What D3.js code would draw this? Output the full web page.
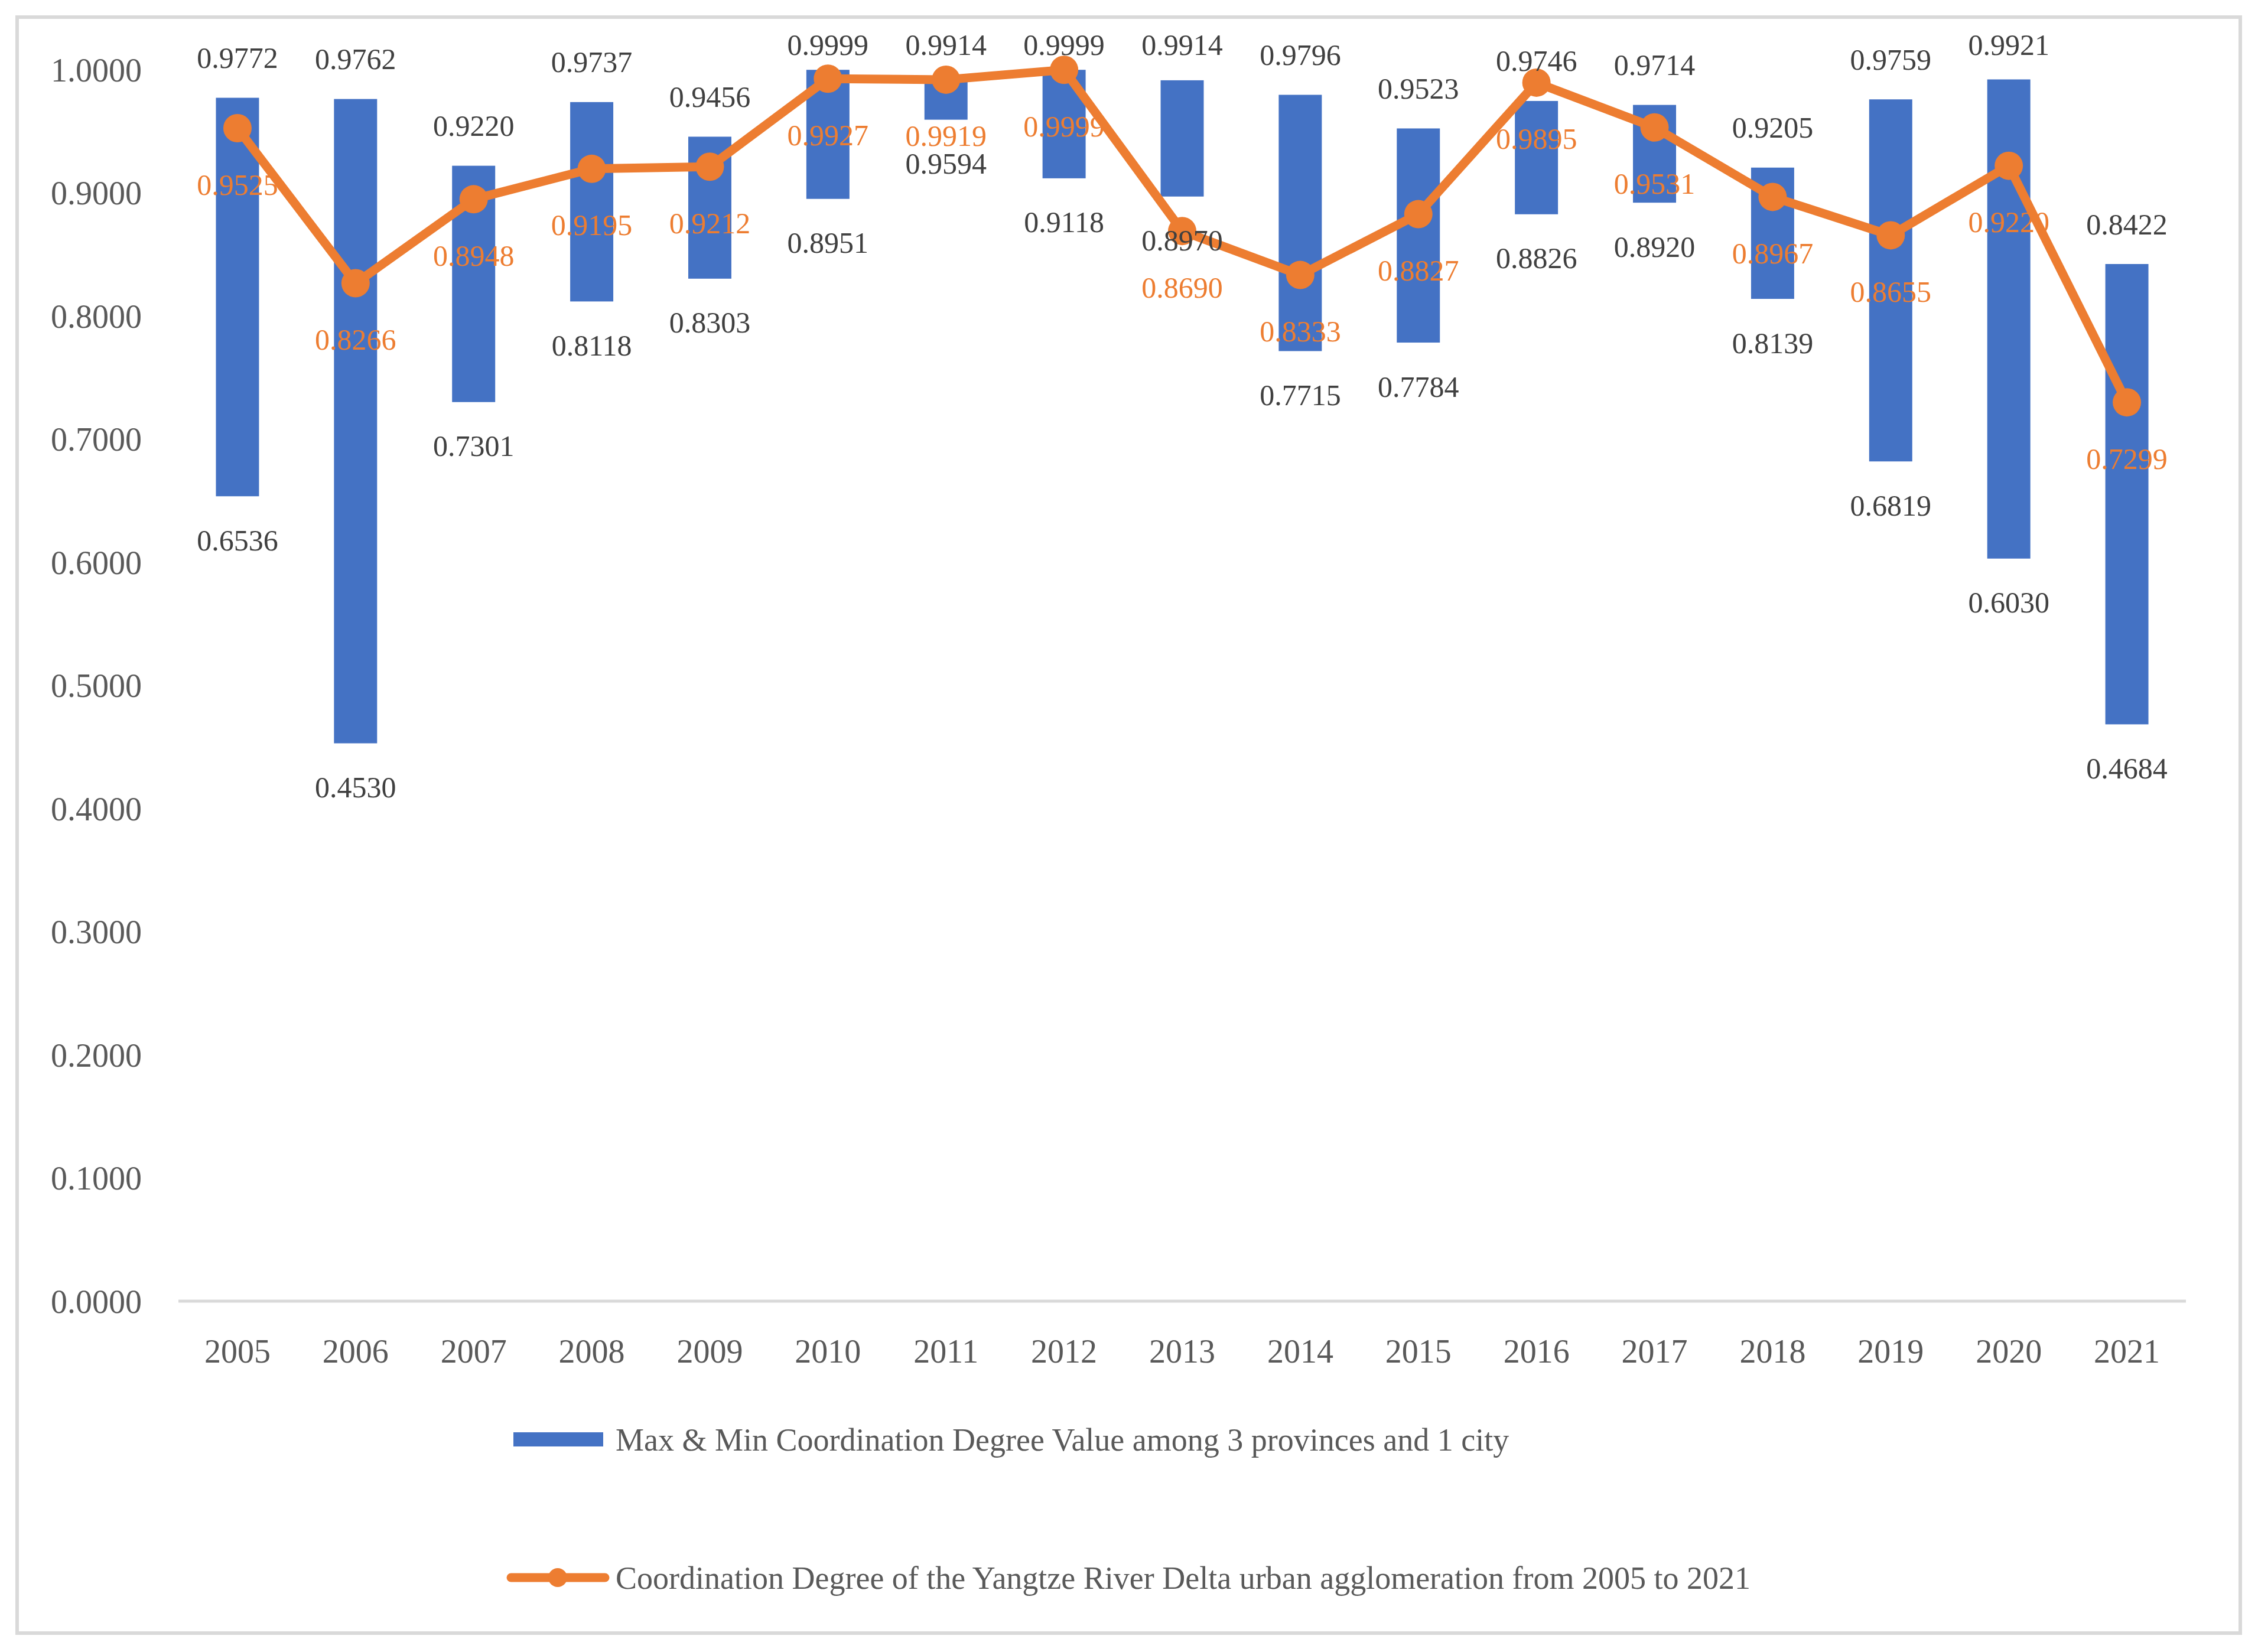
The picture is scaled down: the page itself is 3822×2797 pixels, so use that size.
<!DOCTYPE html>
<html>
<head>
<meta charset="utf-8">
<script src="https://cdn.jsdelivr.net/npm/d3@7"></script>
<style>
  body { margin: 0; background: #fff; }
  text { font-family: "Liberation Serif", "DejaVu Serif", serif; }
</style>
</head>
<body>
<svg id="chart" width="3822" height="2797"></svg>
<script>
// data
const years = ["2005", "2006", "2007", "2008", "2009", "2010", "2011", "2012", "2013",
    "2014", "2015", "2016", "2017", "2018", "2019", "2020", "2021"];
const maxValues = [0.9772, 0.9762, 0.9220, 0.9737, 0.9456, 0.9999, 0.9914, 0.9999, 0.9914,
    0.9796, 0.9523, 0.9746, 0.9714, 0.9205, 0.9759, 0.9921, 0.8422];
const minValues = [0.6536, 0.4530, 0.7301, 0.8118, 0.8303, 0.8951, 0.9594, 0.9118, 0.8970,
    0.7715, 0.7784, 0.8826, 0.8920, 0.8139, 0.6819, 0.6030, 0.4684];
const deltaValues = [0.9525, 0.8266, 0.8948, 0.9195, 0.9212, 0.9927, 0.9919, 0.9999, 0.8690,
    0.8333, 0.8827, 0.9895, 0.9531, 0.8967, 0.8655, 0.9220, 0.7299];
const yTicks = [0, 0.1, 0.2, 0.3, 0.4, 0.5, 0.6, 0.7, 0.8, 0.9, 1.0];
const barLegend = "Max & Min Coordination Degree Value among 3 provinces and 1 city";
const lineLegend = "Coordination Degree of the Yangtze River Delta urban agglomeration from 2005 to 2021";

const blue = "#4472C4", orange = "#ED7D31";

const svg = d3.select("#chart");

// outer frame
svg.append("rect")
    .attr("x", 29).attr("y", 29)
    .attr("width", 3763).attr("height", 2736)
    .attr("fill", "#fff")
    .attr("stroke", "#d9d9d9")
    .attr("stroke-width", 6);

const x = d3.scaleBand()
    .domain(years)
    .range([302, 3700])
    .paddingInner(0.635)
    .paddingOuter(0.3175);

const y = d3.scaleLinear()
    .domain([0, 1])
    .range([2203, 118]);

const cx = d => x(d) + x.bandwidth() / 2;

// y axis labels
svg.append("g")
    .selectAll("text")
    .data(yTicks)
    .join("text")
    .attr("x", 240)
    .attr("y", d => y(d))
    .attr("dy", "0.35em")
    .attr("text-anchor", "end")
    .attr("font-size", 56)
    .attr("fill", "#595959")
    .text(d => d3.format(".4f")(d));

// baseline
svg.append("line")
    .attr("x1", 302).attr("x2", 3700)
    .attr("y1", y(0)).attr("y2", y(0))
    .attr("stroke", "#d9d9d9")
    .attr("stroke-width", 5);

// x labels
svg.append("g")
    .selectAll("text")
    .data(years)
    .join("text")
    .attr("x", d => cx(d))
    .attr("y", 2287)
    .attr("dy", "0.35em")
    .attr("text-anchor", "middle")
    .attr("font-size", 56)
    .attr("fill", "#595959")
    .text(d => d);

// floating bars max-min
svg.append("g")
    .selectAll("rect")
    .data(years)
    .join("rect")
    .attr("x", d => x(d))
    .attr("width", x.bandwidth())
    .attr("y", (d, i) => y(maxValues[i]))
    .attr("height", (d, i) => y(minValues[i]) - y(maxValues[i]))
    .attr("fill", blue);

// line
const line = d3.line()
    .x((d, i) => cx(years[i]))
    .y(d => y(d));

svg.append("path")
    .datum(deltaValues)
    .attr("d", line)
    .attr("fill", "none")
    .attr("stroke", orange)
    .attr("stroke-width", 15)
    .attr("stroke-linejoin", "round")
    .attr("stroke-linecap", "round");

svg.append("g")
    .selectAll("circle")
    .data(deltaValues)
    .join("circle")
    .attr("cx", (d, i) => cx(years[i]))
    .attr("cy", d => y(d))
    .attr("r", 24)
    .attr("fill", orange);

// labels
const fmt = d3.format(".4f");

svg.append("g")
    .selectAll("text")
    .data(maxValues)
    .join("text")
    .attr("x", (d, i) => cx(years[i]))
    .attr("y", d => Math.max(75, y(d) - 68))
    .attr("dy", "0.35em")
    .attr("text-anchor", "middle")
    .attr("font-size", 50)
    .attr("fill", "#404040")
    .text(fmt);

svg.append("g")
    .selectAll("text")
    .data(minValues)
    .join("text")
    .attr("x", (d, i) => cx(years[i]))
    .attr("y", d => y(d) + 74)
    .attr("dy", "0.35em")
    .attr("text-anchor", "middle")
    .attr("font-size", 50)
    .attr("fill", "#404040")
    .text(fmt);

svg.append("g")
    .selectAll("text")
    .data(deltaValues)
    .join("text")
    .attr("x", (d, i) => cx(years[i]))
    .attr("y", d => y(d) + 95)
    .attr("dy", "0.35em")
    .attr("text-anchor", "middle")
    .attr("font-size", 50)
    .attr("fill", orange)
    .text(fmt);

// legend
const legend = svg.append("g");
legend.append("rect")
    .attr("x", 869).attr("y", 2425)
    .attr("width", 152).attr("height", 24)
    .attr("fill", blue);
legend.append("text")
    .attr("x", 1042).attr("y", 2437)
    .attr("dy", "0.35em")
    .attr("font-size", 54)
    .attr("fill", "#595959")
    .text(barLegend);

legend.append("line")
    .attr("x1", 865).attr("x2", 1024)
    .attr("y1", 2671).attr("y2", 2671)
    .attr("stroke", orange)
    .attr("stroke-width", 15)
    .attr("stroke-linecap", "round");
legend.append("circle")
    .attr("cx", 944).attr("cy", 2671)
    .attr("r", 16)
    .attr("fill", orange);
legend.append("text")
    .attr("x", 1042).attr("y", 2671)
    .attr("dy", "0.35em")
    .attr("font-size", 54)
    .attr("fill", "#595959")
    .text(lineLegend);
</script>
</body>
</html>
